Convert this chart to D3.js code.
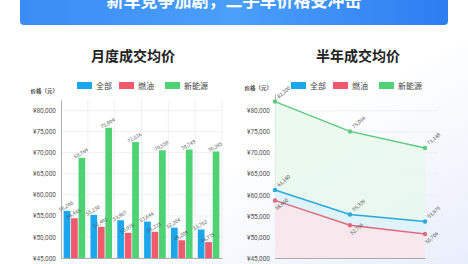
<!DOCTYPE html>
<html>
<head>
<meta charset="utf-8">
<script src="https://cdn.jsdelivr.net/npm/d3@7"></script>
<style>
  body { margin: 0; background: #fff; }
  svg { display: block; font-family: "Noto Sans CJK SC", "Noto Sans", sans-serif; }
</style>
</head>
<body>
<div id="chart"></div>
<script>
// data
const series = ["全部", "燃油", "新能源"];
const colors = ["#1ba6ee", "#f05a6d", "#4fd273"];
const lineColors = ["#27a9dc", "#e06a7c", "#5ec97c"];
const areaColors = ["#dcf2fb", "#fbe5ea", "#e8f8ec"];

const months = ["1月", "2月", "3月", "4月", "5月", "6月"];
const monthAll = [56200, 55230, 53967, 53644, 52204, 51762];
const monthFuel = [54445, 52401, 50978, 51225, 49209, 48775];
const monthNev = [68784, 75904, 72516, 70550, 70749, 70285];

const halfYear = ["1月", "3月", "6月"];
const halfAll = [61180, 55339, 53675];
const halfFuel = [58690, 52796, 50706];
const halfNev = [82200, 75094, 71148];

const yTicks = [45000, 50000, 55000, 60000, 65000, 70000, 75000, 80000];

const W = 468, H = 264;
const fmt = d3.format(",");

const svg = d3.select("#chart").append("svg")
    .attr("width", W)
    .attr("height", H);

const defs = svg.append("defs");
const bg = defs.append("linearGradient").attr("id", "bg").attr("x1", 0).attr("y1", 0).attr("x2", 1).attr("y2", 1);
bg.append("stop").attr("offset", "0.55").attr("stop-color", "#ffffff");
bg.append("stop").attr("offset", "1").attr("stop-color", "#e9eefb");
const hd = defs.append("linearGradient").attr("id", "hd").attr("x1", 0).attr("x2", 1);
hd.append("stop").attr("offset", "0").attr("stop-color", "#3a8cf4");
hd.append("stop").attr("offset", "0.5").attr("stop-color", "#4a9ffa");
hd.append("stop").attr("offset", "1").attr("stop-color", "#2c7ef1");

svg.append("rect").attr("width", W).attr("height", H).attr("fill", "url(#bg)");

// header banner
svg.append("rect")
    .attr("x", 20).attr("y", -10).attr("width", 428).attr("height", 35)
    .attr("rx", 4).attr("fill", "url(#hd)");
svg.append("text")
    .attr("x", 234).attr("y", 7)
    .attr("text-anchor", "middle")
    .attr("fill", "#fff")
    .style("font-size", "17px").style("font-weight", "bold")
    .text("新车竞争加剧，二手车价格受冲击");

function drawLegend(g, x0) {
    const offs = [0, 42, 88];
    series.forEach(function (s, i) {
        g.append("rect").attr("x", x0 + offs[i]).attr("y", 82).attr("width", 15).attr("height", 7)
            .attr("fill", colors[i]);
        g.append("text").attr("x", x0 + offs[i] + 19).attr("y", 88.5)
            .style("font-size", "8px").attr("fill", "#444").text(s);
    });
}

function drawYAxis(g, y, x0, x1, unitX, unitY) {
    g.append("g")
        .selectAll("line")
        .data(yTicks)
        .join("line")
        .attr("x1", x0).attr("x2", x1)
        .attr("y1", function (d) { return y(d); })
        .attr("y2", function (d) { return y(d); })
        .attr("stroke", "#ececec").attr("stroke-width", 0.8);

    const ax = g.append("g")
        .attr("transform", "translate(" + x0 + ",0)")
        .call(d3.axisLeft(y).tickValues(yTicks).tickSize(0).tickPadding(5)
            .tickFormat(function (d) { return "¥" + fmt(d); }));
    ax.select(".domain").attr("stroke", "#999").attr("stroke-width", 0.8);
    ax.selectAll("text").style("font-size", "6.5px").attr("fill", "#555")
        .style("font-family", "Roboto, 'Noto Sans', sans-serif");

    g.append("text").attr("x", unitX).attr("y", unitY)
        .attr("text-anchor", "end")
        .style("font-size", "5.5px").style("font-weight", "bold").attr("fill", "#444")
        .text("价格（元）");
}

// ---------- left: monthly bars ----------
const left = svg.append("g");
left.append("text").attr("x", 133).attr("y", 61).attr("text-anchor", "middle")
    .style("font-size", "14px").style("font-weight", "bold").attr("fill", "#222")
    .text("月度成交均价");
drawLegend(left, 77);

const yL = d3.scaleLinear().domain([45000, 82500]).range([258, 100]);
const xL = d3.scaleBand().domain(months).range([61, 222]);
const xSub = d3.scaleBand().domain(series).range([0, xL.bandwidth()])
    .paddingInner(0.1).paddingOuter(0.35);

// vertical grid
left.append("g").selectAll("line")
    .data(months)
    .join("line")
    .attr("x1", function (d) { return xL(d) + xL.bandwidth(); })
    .attr("x2", function (d) { return xL(d) + xL.bandwidth(); })
    .attr("y1", yL.range()[1]).attr("y2", yL.range()[0])
    .attr("stroke", "#ececec").attr("stroke-width", 0.8);

drawYAxis(left, yL, 61, 222, 58, 93);

const monthRows = months.map(function (m, i) {
    return { m: m, v: [monthAll[i], monthFuel[i], monthNev[i]] };
});

const groups = left.append("g").selectAll("g")
    .data(monthRows)
    .join("g")
    .attr("transform", function (d) { return "translate(" + xL(d.m) + ",0)"; });

groups.selectAll("rect")
    .data(function (d) { return d.v.map(function (v, i) { return { s: series[i], v: v, i: i }; }); })
    .join("rect")
    .attr("x", function (d) { return xSub(d.s); })
    .attr("width", xSub.bandwidth())
    .attr("y", function (d) { return yL(d.v); })
    .attr("height", function (d) { return yL(45000) - yL(d.v); })
    .attr("fill", function (d) { return colors[d.i]; });

groups.selectAll("text")
    .data(function (d) { return d.v.map(function (v, i) { return { s: series[i], v: v, i: i }; }); })
    .join("text")
    .attr("transform", function (d) {
        return "translate(" + (xSub(d.s) + xSub.bandwidth() / 2) + "," + (yL(d.v) - 3) + ") rotate(-30)";
    })
    .attr("text-anchor", "middle")
    .style("font-size", "5px").attr("fill", "#555")
    .text(function (d) { return fmt(d.v); });

// bottom axis line (month labels fall below the visible area)
const axL = left.append("g")
    .attr("transform", "translate(0," + yL(45000) + ")")
    .call(d3.axisBottom(xL).tickSize(0).tickFormat(""));
axL.select(".domain").attr("stroke", "#999").attr("stroke-width", 0.8);

// ---------- right: half-year lines ----------
const right = svg.append("g");
right.append("text").attr("x", 358).attr("y", 61).attr("text-anchor", "middle")
    .style("font-size", "14px").style("font-weight", "bold").attr("fill", "#222")
    .text("半年成交均价");
drawLegend(right, 291);

const yR = d3.scaleLinear().domain([45000, 84000]).range([258, 94]);
const xR = d3.scalePoint().domain(halfYear).range([275, 425]);

drawYAxis(right, yR, 275, 438, 272, 90);

const lineSets = [halfNev, halfAll, halfFuel];
const setColor = [2, 0, 1];

const area = d3.area()
    .x(function (d, i) { return xR(halfYear[i]); })
    .y0(yR(45000))
    .y1(function (d) { return yR(d); });
const line = d3.line()
    .x(function (d, i) { return xR(halfYear[i]); })
    .y(function (d) { return yR(d); });

lineSets.forEach(function (vals, k) {
    right.append("path").datum(vals).attr("d", area)
        .attr("fill", areaColors[setColor[k]]).attr("opacity", 0.85);
});

lineSets.forEach(function (vals, k) {
    const c = lineColors[setColor[k]];
    right.append("path").datum(vals).attr("d", line)
        .attr("fill", "none").attr("stroke", c).attr("stroke-width", 1.4);
    right.append("g").selectAll("circle")
        .data(vals)
        .join("circle")
        .attr("cx", function (d, i) { return xR(halfYear[i]); })
        .attr("cy", function (d) { return yR(d); })
        .attr("r", 2.2)
        .attr("fill", c);
    const below = setColor[k] === 1;
    right.append("g").selectAll("text")
        .data(vals)
        .join("text")
        .attr("transform", function (d, i) {
            const px = xR(halfYear[i]) + (below ? 2 : 4);
            const py = yR(d) + (below ? 10 : -3);
            return "translate(" + px + "," + py + ") rotate(-40)";
        })
        .style("font-size", "5px").attr("fill", "#555")
        .text(function (d) { return fmt(d); });
});

const axR = right.append("g")
    .attr("transform", "translate(0," + yR(45000) + ")")
    .call(d3.axisBottom(xR).tickSize(0).tickFormat(""));
axR.select(".domain").attr("stroke", "#999").attr("stroke-width", 0.8);
</script>
</body>
</html>
